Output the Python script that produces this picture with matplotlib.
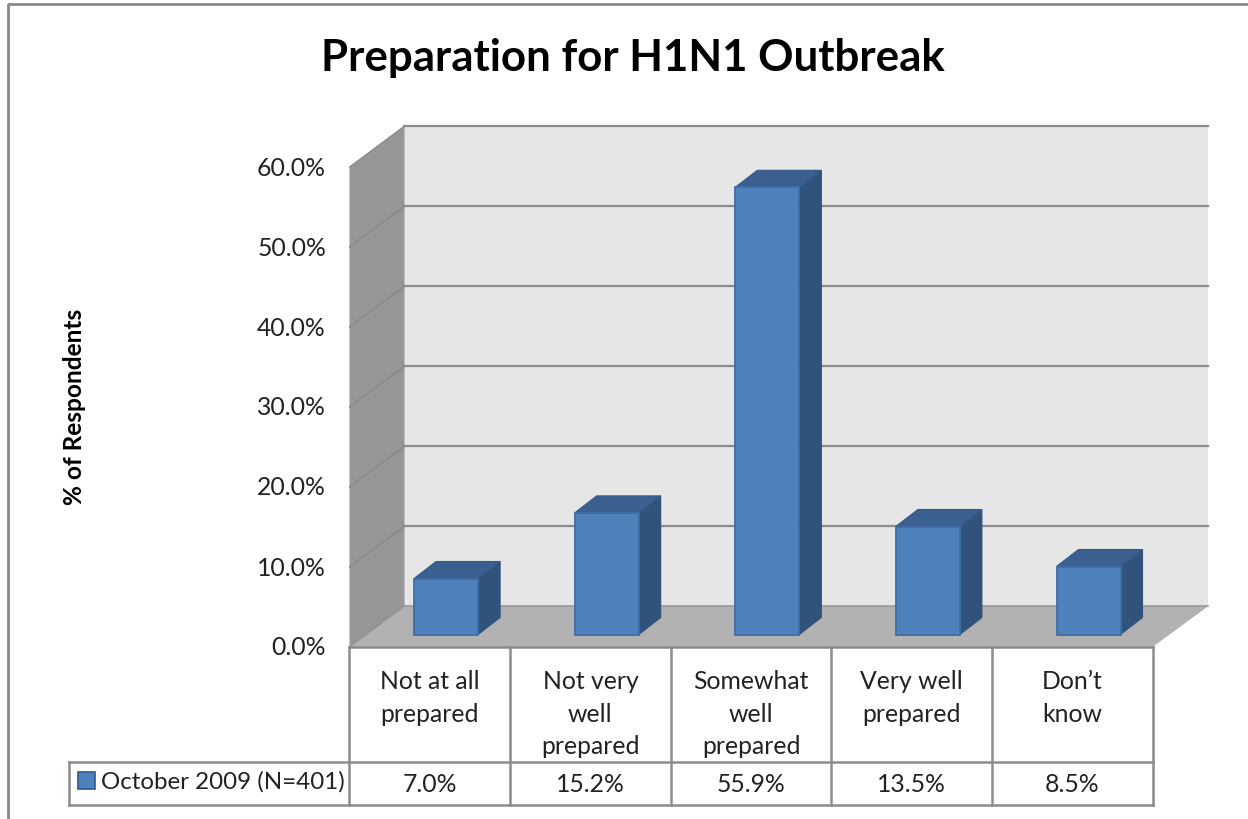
import numpy as np
import matplotlib
matplotlib.use("Agg")
import matplotlib.pyplot as plt
from matplotlib.patches import Polygon, Rectangle

plt.rcParams['font.family'] = ['Lato', 'DejaVu Sans']

categories = ["Not at all\nprepared", "Not very\nwell\nprepared", "Somewhat\nwell\nprepared",
              "Very well\nprepared", "Don\u2019t\nknow"]
values = [7.0, 15.2, 55.9, 13.5, 8.5]
value_labels = ["7.0%", "15.2%", "55.9%", "13.5%", "8.5%"]
y_ticks = [0, 10, 20, 30, 40, 50, 60]
y_tick_labels = ["0.0%", "10.0%", "20.0%", "30.0%", "40.0%", "50.0%", "60.0%"]
series_name = "October 2009 (N=401)"
title = "Preparation for H1N1 Outbreak"
y_label = "% of Respondents"

W, H = 1248, 820
x0, y0 = 349.5, 648     # pixel of the front corner of the floor
cat_w = 160.6           # pixels for one category
pct_h = 8.0             # pixels for one percent


def px(x):
    return (x - x0) / cat_w


def py(y):
    return (y0 - y) / pct_h


fig = plt.figure(figsize=(W / 100, H / 100), dpi=100)
ax = fig.add_axes([0, 0, 1, 1])
ax.set_xlim(px(0), px(W))
ax.set_ylim(py(H), py(0))
ax.axis('off')

# depth of the fake 3d box, in data units
dx_wall, dy_wall = 55 / cat_w, 41 / pct_h
dx_bar, dy_bar = 22 / cat_w, 17 / pct_h
bar_w = 64 / cat_w
bar_shift = 16.3 / cat_w
bar_base = 12.5 / pct_h
n = len(categories)
top = y_ticks[-1]
grid = '#8c8c8c'
txt = '#222222'
fs = 17.8

# outer chart border
ax.plot([px(8), px(8), px(W)], [py(H), py(5), py(5)], color='#8a8a8a', lw=2, zorder=1)

# walls and floor
ax.add_patch(Polygon([(dx_wall, dy_wall), (n + dx_wall + 1 / cat_w, dy_wall),
                      (n + dx_wall + 1 / cat_w, top + dy_wall), (dx_wall, top + dy_wall)],
                     fc='#e6e6e6', ec='none', zorder=1))
ax.add_patch(Polygon([(0, 0), (dx_wall, dy_wall), (dx_wall, top + dy_wall), (0, top)],
                     fc='#969696', ec='none', zorder=2))
ax.add_patch(Polygon([(0, 0), (dx_wall, dy_wall), (n + dx_wall + 1 / cat_w, dy_wall), (n, 0)],
                     fc='#b2b2b2', ec='none', zorder=2))

for t in y_ticks[1:]:
    ax.plot([0, dx_wall], [t, t + dy_wall], color='#858585', lw=0.8, zorder=3)
    ax.plot([dx_wall, n + dx_wall + 1 / cat_w], [t + dy_wall, t + dy_wall], color=grid, lw=1.6, zorder=3)
ax.plot([0, dx_wall], [0, dy_wall], color='#8f8f8f', lw=0.8, zorder=3)
ax.plot([dx_wall, n + dx_wall + 1 / cat_w], [dy_wall, dy_wall], color='#9a9a9a', lw=1.2, zorder=3)

# bars, front face then the two dark sides
for i, v in enumerate(values):
    left = i + 0.5 - bar_w / 2 + bar_shift
    right = left + bar_w
    b = bar_base
    ax.add_patch(Polygon([(right, b), (right + dx_bar, b + dy_bar), (right + dx_bar, b + v + dy_bar), (right, b + v)],
                         fc='#31527a', ec='#31527a', lw=0.8, zorder=4))
    ax.add_patch(Polygon([(left, b + v), (left + dx_bar, b + v + dy_bar), (right + dx_bar, b + v + dy_bar), (right, b + v)],
                         fc='#39608f', ec='#36598a', lw=0.8, zorder=4))
    ax.add_patch(Rectangle((left, b), bar_w, v, fc='#4f81bd', ec='#3f6ea6', lw=1.3, zorder=5))

# y tick labels
for t, lab in zip(y_ticks, y_tick_labels):
    ax.text(px(326), t, lab, ha='right', va='center', fontsize=fs, color=txt)

# data table
tb = '#8c8c8c'
row_y = py(763)
bot_y = py(806)
for i in range(n + 1):
    ax.plot([i, i], [0, bot_y], color=tb, lw=1.8, zorder=3, solid_capstyle='projecting')
ax.plot([0, n], [0, 0], color=tb, lw=1.8, zorder=3)
ax.plot([px(69), n], [row_y, row_y], color=tb, lw=1.8, zorder=3)
ax.plot([px(69), n], [bot_y, bot_y], color=tb, lw=1.8, zorder=3)
ax.plot([px(69), px(69)], [row_y, bot_y], color=tb, lw=1.8, zorder=3)

for i, (c, lab) in enumerate(zip(categories, value_labels)):
    ax.text(i + 0.5, py(670.5), c, ha='center', va='top', fontsize=fs, color=txt, linespacing=1.5)
    ax.text(i + 0.5, py(785), lab, ha='center', va='center', fontsize=fs, color=txt)

# legend key inside the table
ax.add_patch(Rectangle((px(78), py(790)), 17 / cat_w, 17 / pct_h, fc='#4f81bd', ec='#2f5a8f', lw=1.2, zorder=5))
ax.text(px(101), py(781.5), series_name, ha='left', va='center', fontsize=17.4, color=txt)

ax.text(px(633), py(58), title, ha='center', va='center', fontsize=31.6, fontweight='bold', color='black')
ax.text(px(75), py(407), y_label, ha='center', va='center', rotation=90, fontsize=17.6,
        fontweight='bold', color='black')

fig.savefig("out.png", dpi=100)
